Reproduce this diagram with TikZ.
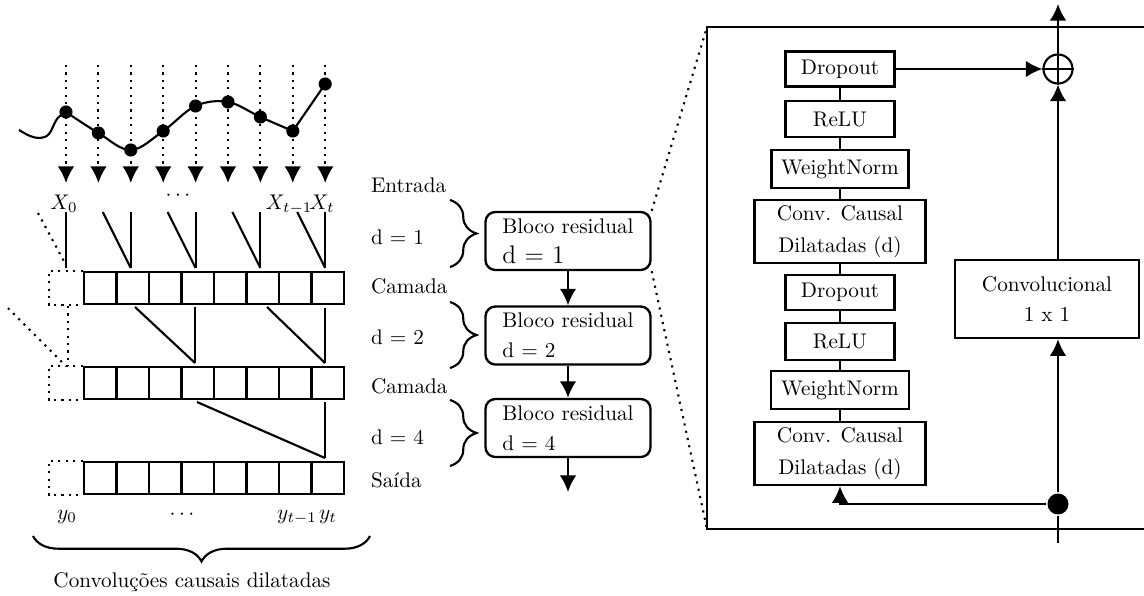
\documentclass[tikz,border=0pt]{standalone}
\usetikzlibrary{arrows.meta,decorations.pathreplacing,calc}
\begin{document}
\begin{tikzpicture}[x=0.472pt,y=-0.472pt, line width=1pt,
  >={Latex[length=7.8pt,width=7.8pt]},
  dot/.style={circle,fill,inner sep=0pt,minimum size=6.2pt},
  dotline/.style={line width=1pt,dash pattern=on 1pt off 2.5pt},
  cell/.style={draw,line width=1.3pt,minimum width=15.3pt,minimum height=15.1pt,inner sep=0pt},
  lbl/.style={inner sep=0pt,anchor=west},
  blk/.style={draw,line width=1.1pt,rounded corners=4.7pt,align=left,minimum width=77.9pt,minimum height=27.4pt,inner sep=0pt},
  bx/.style={draw,line width=1.2pt,inner sep=0pt,align=center,minimum height=16.5pt},
  brc/.style={decorate,decoration={brace,amplitude=12.5pt}}
]
\useasboundingbox (0,0) rectangle (1144,596);

% ---------- input signal ----------
\foreach \k/\py in {0/112,1/133,2/150,3/131,4/106,5/102,6/117,7/131,8/84} {
  \pgfmathsetmacro\xx{66+32.4*\k}
  \coordinate (top\k) at (\xx,65);
  \coordinate (arr\k) at (\xx,183);
  \draw[dotline,->] (top\k) -- (arr\k);
  \node[dot] (p\k) at (\xx,\py) {};
}
\draw plot[smooth,tension=0.6] coordinates {(19,130) (30,136) (40,138) (49,134) (57,119) (66,112)};
\draw plot[smooth,tension=0.6] coordinates {(66,112) (98.4,133) (130.8,150) (163.2,131) (195.6,106) (228,102) (260.4,117) (292.8,131)} -- (325.2,84);

% input labels
\node[anchor=base] (x0) at (64,209) {$X_0$};
\node[anchor=base] (xdots) at (178,200) {$\cdots$};
\node[anchor=base] (xt1) at (289,209) {$X_{t-1}$};
\node[anchor=base] (xt) at (322,209) {$X_t$};

% ---------- layers ----------
\foreach \r/\y in {1/288,2/383,3/478} {
  \foreach \i in {1,...,8} {
    \node[cell] (c\r-\i) at ({84+32.5*(\i-0.5)},\y) {};
  }
  \draw[dotline] (c\r-1.north west) -- ++(-34,0) |- (c\r-1.south west);
}

% input -> layer 1
\foreach \k in {0,2,4,6,8} {
  \pgfmathsetmacro\xx{66+32.4*\k}
  \coordinate (ia\k) at (\xx,212);
  \coordinate (ib\k) at (\xx,268);
  \draw (ia\k) -- (ib\k);
}
\foreach \k in {2,4,6,8} {
  \pgfmathsetmacro\xx{66+32.4*\k-28}
  \coordinate (id\k) at (\xx,212);
  \draw (id\k) -- (ib\k);
}
% layer 1 -> layer 2
\coordinate (la1) at (135,307); \coordinate (la2) at (195,307); \coordinate (la3) at (195,363);
\coordinate (la4) at (267,307); \coordinate (la5) at (325,308); \coordinate (la6) at (325,363);
\draw (la1) -- (la3); \draw (la2) -- (la3);
\draw (la4) -- (la6); \draw (la5) -- (la6);
% layer 2 -> layer 3
\coordinate (lb1) at (197,402); \coordinate (lb2) at (325,402); \coordinate (lb3) at (325,458);
\draw (lb1) -- (lb3); \draw (lb2) -- (lb3);

% dotted extras
\coordinate (da1) at (38,213); \coordinate (da2) at (66,265);
\coordinate (db1) at (68,306); \coordinate (db2) at (68,366);
\coordinate (dc1) at (8,308); \coordinate (dc2) at (66,366);
\draw[dotline] (da1) -- (da2);
\draw[dotline] (db1) -- (db2);
\draw[dotline] (dc1) -- (dc2);

% output labels
\node[anchor=base] (y0) at (67,519) {$y_0$};
\node[anchor=base] (ydots) at (182,519) {$\cdots$};
\node[anchor=base] (yt1) at (297,519) {$y_{t-1}$};
\node[anchor=base] (yt) at (328,519) {$y_t$};

% bottom brace
\draw[decorate,decoration={brace,mirror,amplitude=12pt}] (33,536) -- (370,536);
\node (cap) at (192,582) {Convoluções causais dilatadas};

% ---------- middle ----------
\node[lbl] (entrada) at (370,185) {Entrada};
\node[lbl] (dd1) at (370,237) {d = 1};
\node[lbl] (cam1) at (370,286) {Camada};
\node[lbl] (dd2) at (370,337) {d = 2};
\node[lbl] (cam2) at (370,386) {Camada};
\node[lbl] (dd4) at (370,437) {d = 4};
\node[lbl] (saida) at (370,480) {Saída};

\draw[brc] (450,200) -- (450,267);
\draw[brc] (450,302) -- (450,368);
\draw[brc] (450,400) -- (450,466);

\node[blk] (b1) at (568,241) {Bloco residual\\[2pt]{\large d = 1}};
\node[blk] (b2) at (568,335.5) {Bloco residual\\[2pt]d = 2};
\node[blk] (b3) at (568,428) {Bloco residual\\[2pt]d = 4};
\coordinate (bout) at (568,492);
\draw[->] (b1.south) -- (b2.north);
\draw[->] (b2.south) -- (b3.north);
\draw[->] (b3.south) -- (bout);

% ---------- residual block detail ----------
\coordinate (bbtl) at (707,27);
\coordinate (bbbl) at (707,529);
\coordinate (bbtr) at (1150,27);
\coordinate (bbbr) at (1150,529);
\draw (bbtr) -- (bbtl) -- (bbbl) -- (bbbr);
\draw[dotline] (b1.north east) -- (bbtl);
\draw[dotline] (b1.south east) -- (bbbl);

\node[bx,minimum width=51.4pt] (dr1) at (840,69) {Dropout};
\node[bx,minimum width=51.4pt,minimum height=17pt] (re1) at (840,119) {ReLU};
\node[bx,minimum width=64.7pt,minimum height=17.9pt] (wn1) at (840,169) {WeightNorm};
\node[bx,minimum width=80.7pt,minimum height=29.7pt] (cv1) at (840,231.5) {Conv. Causal\\[3pt]Dilatadas (d)};
\node[bx,minimum width=51.4pt] (dr2) at (840,292.5) {Dropout};
\node[bx,minimum width=51.4pt,minimum height=17.4pt] (re2) at (840,341.5) {ReLU};
\node[bx,minimum width=65.1pt,minimum height=17.9pt] (wn2) at (840,390) {WeightNorm};
\node[bx,minimum width=80.7pt,minimum height=29.7pt] (cv2) at (840,453.5) {Conv. Causal\\[3pt]Dilatadas (d)};
\node[bx,minimum width=86.8pt,minimum height=36.8pt] (k11) at (1047,299) {Convolucional\\[2.2pt]1 x 1};

\draw (dr1) -- (re1);
\draw (re1) -- (wn1);
\draw (wn1) -- (cv1);
\draw (cv1) -- (dr2);
\draw (dr2) -- (re2);
\draw (re2) -- (wn2);
\draw (wn2) -- (cv2);

\node[circle,draw,minimum size=13.7pt,inner sep=0pt] (plus) at (1058,69) {};
\draw (plus.north) -- (plus.south) (plus.west) -- (plus.east);
\coordinate (outtop) at (1058,4);
\draw[->] (plus.north) -- (outtop);
\draw[->] (dr1.east) -- (plus.west);
\draw[->] (plus |- k11.north) -- (plus.south);

\node[dot,minimum size=9.9pt] (split) at (1058,504) {};
\coordinate (in) at (1058,543);
\draw (in) -- (split);
\draw[->] (split) -- (split |- k11.south);
\draw[->] (split) -| (cv2.south);
\end{tikzpicture}
\end{document}
